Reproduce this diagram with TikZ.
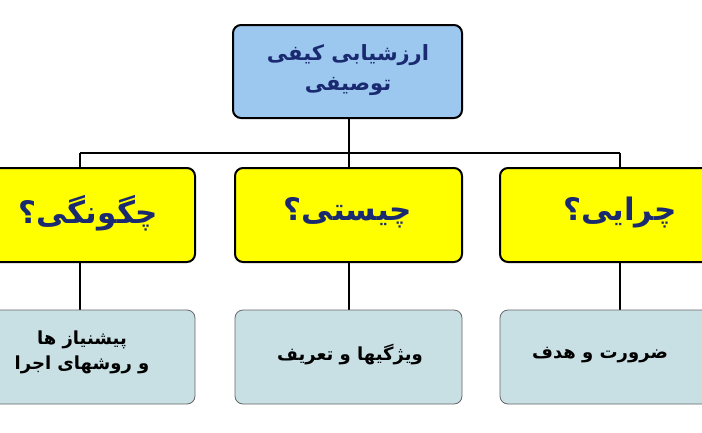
\documentclass[tikz,border=0pt]{standalone}
\usepackage{fontspec}
\newfontfamily\arabicfont[Script=Arabic]{DejaVu Sans}
\TeXXeTstate=1
\definecolor{topblue}{HTML}{9CC8F0}
\definecolor{ybox}{HTML}{FFFF00}
\definecolor{bbox}{HTML}{C8E0E4}
\definecolor{navy}{HTML}{1A2A70}
\tikzset{
  topbox/.style={draw=black,line width=2pt,fill=topblue,rounded corners=8pt},
  ylw/.style={draw=black,line width=2pt,fill=ybox,rounded corners=8pt},
  btm/.style={draw=gray!80!black,line width=0.8pt,fill=bbox,rounded corners=8pt},
  conn/.style={line width=1.8pt,black},
  lbl/.style={font=\arabicfont\bfseries,align=center}
}
\begin{document}
\begin{tikzpicture}[x=1pt,y=-1pt]
\useasboundingbox (0,0) rectangle (702,432);
\clip (0,0) rectangle (702,432);
\fill[white] (0,0) rectangle (702,432);
% connectors
\coordinate (hl) at (80,153);
\coordinate (hr) at (620,153);
\coordinate (hm) at (349,153);
\draw[conn] (hl) -- (hr);
\draw[conn] (hm) -- (349,118);
\draw[conn] (hl) -- (80,310);
\draw[conn] (hm) -- (349,310);
\draw[conn] (hr) -- (620,310);
% boxes
\draw[topbox] (233,25) rectangle (462,118);
\node[lbl,text=navy,font=\arabicfont\bfseries\fontsize{21}{30}\selectfont] (top) at (348,70) {\beginR ارزشیابی کیفی\endR\\\beginR توصیفی\endR};
\draw[ylw] (-20,168) rectangle (195,262);
\draw[ylw] (235,168) rectangle (462,262);
\draw[ylw] (500,168) rectangle (720,262);
\node[lbl,text=navy,font=\arabicfont\bfseries\fontsize{31}{34}\selectfont] (y1) at (88,213) {\beginR چگونگی؟\endR};
\node[lbl,text=navy,font=\arabicfont\bfseries\fontsize{31}{34}\selectfont] (y2) at (348,213) {\beginR چیستی؟\endR};
\node[lbl,text=navy,font=\arabicfont\bfseries\fontsize{31}{34}\selectfont] (y3) at (620,213) {\beginR چرایی؟\endR};
\draw[btm] (-20,310) rectangle (195,404);
\draw[btm] (235,310) rectangle (462,404);
\draw[btm] (500,310) rectangle (720,404);
\node[lbl,font=\arabicfont\bfseries\fontsize{18}{25}\selectfont] (b1) at (82,352) {\beginR پیشنیاز ها\endR\\\beginR و روشهای اجرا\endR};
\node[lbl,font=\arabicfont\bfseries\fontsize{18}{25}\selectfont] (b2) at (350,355) {\beginR ویژگیها و تعریف\endR};
\node[lbl,font=\arabicfont\bfseries\fontsize{18}{25}\selectfont] (b3) at (600,355) {\beginR ضرورت و هدف\endR};
\end{tikzpicture}
\end{document}
